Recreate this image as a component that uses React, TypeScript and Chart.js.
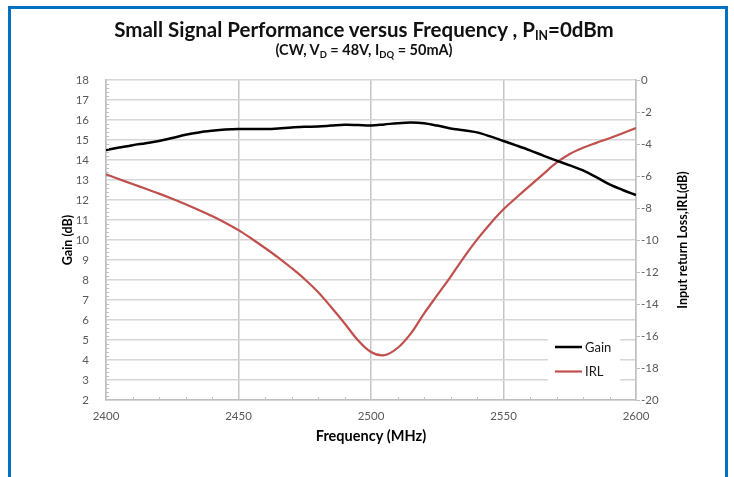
import React, { useEffect, useRef } from 'react';
import { Chart, registerables } from 'chart.js';

Chart.register(...registerables);

const frequencies = [
  2400, 2405, 2410, 2415, 2420, 2425, 2430, 2435, 2440, 2445,
  2450, 2455, 2460, 2465, 2470, 2475, 2480, 2485, 2490, 2495,
  2500, 2505, 2510, 2515, 2520, 2525, 2530, 2535, 2540, 2545,
  2550, 2555, 2560, 2565, 2570, 2575, 2580, 2585, 2590, 2595, 2600,
];

const gain = [
  14.5, 14.62, 14.74, 14.84, 14.95, 15.1, 15.26, 15.38, 15.46, 15.52,
  15.55, 15.55, 15.55, 15.58, 15.63, 15.66, 15.68, 15.72, 15.76, 15.75,
  15.73, 15.78, 15.84, 15.87, 15.84, 15.72, 15.58, 15.49, 15.38, 15.18,
  14.95, 14.72, 14.48, 14.22, 13.97, 13.73, 13.48, 13.14, 12.78, 12.5, 12.25,
];

const irl = [
  -5.9, -6.2, -6.5, -6.8, -7.1, -7.42, -7.76, -8.12, -8.5, -8.92,
  -9.38, -9.92, -10.5, -11.1, -11.75, -12.45, -13.25, -14.2, -15.2, -16.25,
  -17.0, -17.2, -16.75, -15.85, -14.6, -13.45, -12.3, -11.1, -9.98, -8.98,
  -8.08, -7.33, -6.6, -5.88, -5.17, -4.63, -4.24, -3.93, -3.64, -3.33, -3.0,
];

const seriesLabels = ['Gain', 'IRL'];
const seriesColors = ['#000000', '#C0504D'];
const xTitle = 'Frequency (MHz)';
const yTitle = 'Gain (dB)';
const y1Title = 'Input return Loss,IRL(dB)';

const FONT = 'Lato, "Open Sans", sans-serif';
const TICK_COLOR = '#595959';

const decorPlugin = {
  id: 'decor',
  afterDraw(chart: any) {
    const ctx = chart.ctx;
    const { left, top, bottom } = chart.chartArea;
    const xs = chart.scales.x;
    const ys = chart.scales.y;
    const y1 = chart.scales.y1;
    ctx.save();
    ctx.strokeStyle = '#bfbfbf';
    ctx.lineWidth = 1;
    ctx.beginPath();
    for (let i = 0; i <= 80; i++) {
      if (i % 5 === 0) continue;
      const py = Math.round(ys.getPixelForValue(2 + i * 0.2)) + 0.5;
      ctx.moveTo(left, py);
      ctx.lineTo(left + 3, py);
    }
    for (let i = 0; i <= 20; i++) {
      if (i % 5 === 0) continue;
      const px = Math.round(xs.getPixelForValue(2400 + i * 10)) + 0.5;
      ctx.moveTo(px, bottom);
      ctx.lineTo(px, bottom - 3);
    }
    ctx.stroke();

    // legend
    ctx.fillStyle = '#ffffff';
    ctx.fillRect(548, 333, 72, 52);
    chart.data.datasets.forEach((ds: any, i: number) => {
      const cy = 347 + i * 24.5;
      ctx.strokeStyle = ds.borderColor;
      ctx.lineWidth = ds.borderWidth;
      ctx.beginPath();
      ctx.moveTo(555, cy);
      ctx.lineTo(582, cy);
      ctx.stroke();
      ctx.fillStyle = '#1a1a1a';
      ctx.font = `13px ${FONT}`;
      ctx.textBaseline = 'middle';
      ctx.textAlign = 'left';
      ctx.fillText(ds.label, 585, cy + 0.5);
    });

    // right axis title (reads bottom to top)
    ctx.fillStyle = '#000000';
    ctx.font = `bold 12.5px ${FONT}`;
    ctx.textAlign = 'center';
    ctx.textBaseline = 'middle';
    ctx.translate(y1.right - 13, (top + bottom) / 2);
    ctx.rotate(-Math.PI / 2);
    ctx.fillText(y1Title, 0, 0);
    ctx.restore();
  },
};

export default function App() {
  const canvasRef = useRef<HTMLCanvasElement | null>(null);

  useEffect(() => {
    const canvas = canvasRef.current;
    if (!canvas) return;
    const chart = new Chart(canvas, {
      type: 'line',
      data: {
        datasets: [
          {
            label: seriesLabels[0],
            data: frequencies.map((f, i) => ({ x: f, y: gain[i] })),
            borderColor: seriesColors[0],
            borderWidth: 2.5,
            yAxisID: 'y',
            pointRadius: 0,
            tension: 0.35,
          },
          {
            label: seriesLabels[1],
            data: frequencies.map((f, i) => ({ x: f, y: irl[i] })),
            borderColor: seriesColors[1],
            borderWidth: 2.2,
            yAxisID: 'y1',
            pointRadius: 0,
            tension: 0.35,
          },
        ],
      },
      options: {
        responsive: false,
        animation: false,
        devicePixelRatio: 1,
        layout: { padding: { left: 60, top: 80, right: 38, bottom: 32 } },
        plugins: {
          legend: { display: false },
          tooltip: { enabled: false },
        },
        scales: {
          x: {
            type: 'linear',
            min: 2400,
            max: 2600,
            ticks: {
              stepSize: 50,
              color: TICK_COLOR,
              font: { family: FONT, size: 11.5 },
              padding: 9,
              callback: (v: any) => String(v),
              maxRotation: 0,
            },
            grid: { color: '#c4c4c4', lineWidth: 1.5, drawTicks: false },
            border: { color: '#bfbfbf', width: 1.5 },
            title: {
              display: true,
              text: xTitle,
              color: '#000000',
              font: { family: FONT, size: 14.5, weight: 'bold' },
              padding: { top: 0, bottom: 0 },
            },
            afterFit: (s: any) => { s.height = 45; },
          },
          y: {
            position: 'left',
            min: 2,
            max: 18,
            ticks: {
              stepSize: 1,
              color: TICK_COLOR,
              font: { family: FONT, size: 11.5 },
              padding: 17,
            },
            grid: { color: '#d6d6d6', lineWidth: 1.5, drawTicks: false },
            border: { color: '#bfbfbf', width: 1.5 },
            title: {
              display: true,
              text: yTitle,
              color: '#000000',
              font: { family: FONT, size: 12.5, weight: 'bold' },
              padding: { top: 0, bottom: 0 },
            },
            afterFit: (s: any) => { s.width = 46; },
          },
          y1: {
            position: 'right',
            min: -20,
            max: 0,
            ticks: {
              stepSize: 2,
              color: TICK_COLOR,
              font: { family: FONT, size: 11.5 },
              padding: 1,
            },
            grid: { drawOnChartArea: false, color: '#bfbfbf', tickLength: 4, lineWidth: 1 },
            border: { color: '#bfbfbf', width: 1.5 },
            afterFit: (s: any) => { s.width = 60; },
          },
        },
      },
      plugins: [decorPlugin],
    } as any);
    return () => chart.destroy();
  }, []);

  return (
    <div style={{ position: 'fixed', left: 0, top: 0, width: 734, height: 477, background: '#fff', overflow: 'hidden' }}>
      <div
        style={{
          position: 'absolute', left: 8, top: 6, width: 720, height: 471,
          boxSizing: 'border-box', borderTop: '3px solid #0070C0',
          borderLeft: '3px solid #0070C0', borderRight: '3px solid #0070C0',
        }}
      />
      <canvas ref={canvasRef} width={734} height={477}
        style={{ position: 'absolute', left: 0, top: 0, width: 734, height: 477, display: 'block' }} />
      <div style={{ position: 'absolute', left: -3, top: 16, width: 734, textAlign: 'center',
        fontFamily: FONT, fontWeight: 'bold', fontSize: 20.5, color: '#111', lineHeight: '26px', whiteSpace: 'nowrap' }}>
        Small Signal Performance versus Frequency , P<sub style={{ fontSize: '0.6em', verticalAlign: '-0.25em' }}>IN</sub>=0dBm
      </div>
      <div style={{ position: 'absolute', left: -3, top: 41, width: 734, textAlign: 'center',
        fontFamily: FONT, fontWeight: 'bold', fontSize: 14.5, color: '#111', lineHeight: '18px', whiteSpace: 'nowrap' }}>
        (CW, V<sub style={{ fontSize: '0.65em', verticalAlign: '-0.3em' }}>D</sub> = 48V, I<sub style={{ fontSize: '0.65em', verticalAlign: '-0.3em' }}>DQ</sub> = 50mA)
      </div>
    </div>
  );
}
